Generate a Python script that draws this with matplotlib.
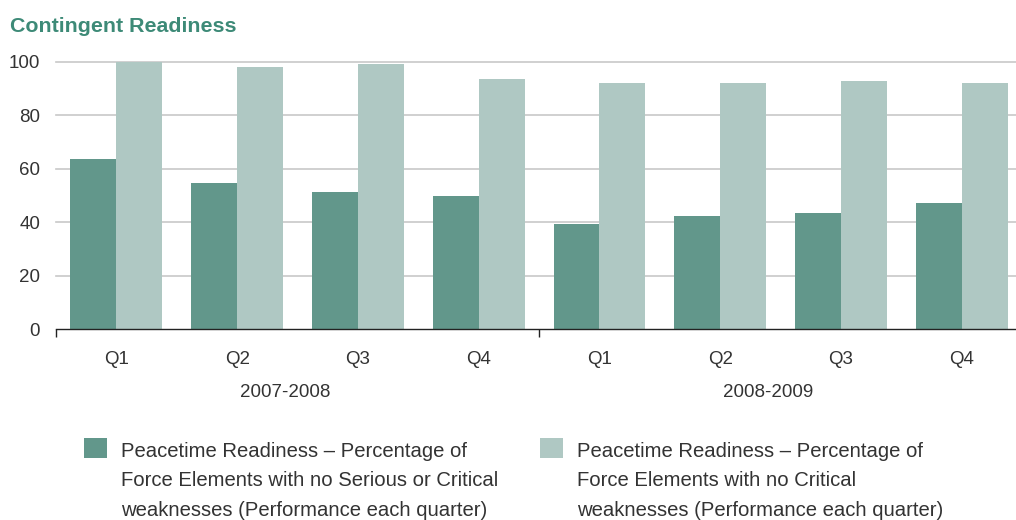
import matplotlib
matplotlib.use("Agg")
import matplotlib.pyplot as plt
from matplotlib.patches import Patch, Rectangle
from matplotlib.legend_handler import HandlerPatch

plt.rcParams['font.family'] = ['Liberation Sans', 'DejaVu Sans']

quarters = ["Q1", "Q2", "Q3", "Q4", "Q1", "Q2", "Q3", "Q4"]
years = ["2007-2008", "2008-2009"]
serious_or_critical = [63.5, 54.5, 51.2, 49.7, 39.4, 42.4, 43.5, 47.3]
critical_only = [100.0, 98.2, 99.3, 93.7, 92.2, 92.2, 92.9, 92.2]
legend_labels = [
    "Peacetime Readiness \u2013 Percentage of\nForce Elements with no Serious or Critical\nweaknesses (Performance each quarter)",
    "Peacetime Readiness \u2013 Percentage of\nForce Elements with no Critical\nweaknesses (Performance each quarter)",
]

dark = "#62978b"
light = "#afc8c3"
text_col = "#333333"


def square_up(legend, orig_handle, xdescent, ydescent, width, height, fontsize):
    # lift the swatch so it sits beside the first text line
    return Rectangle((-xdescent, -ydescent + 3.0), width, height)


fig = plt.figure(figsize=(10.16, 5.2), dpi=100)
ax = fig.add_axes([56 / 1016, 1 - 329 / 520, 1 - 56 / 1016, (329 - 62) / 520])

x = list(range(len(quarters)))
w = 0.38
ax.bar([i - w / 2 for i in x], serious_or_critical, width=w, color=dark, zorder=2)
ax.bar([i + w / 2 for i in x], critical_only, width=w, color=light, zorder=2)

ax.set_ylim(0, 100)
ax.set_xlim(-0.49, 7.45)
ax.set_yticks([0, 20, 40, 60, 80, 100])
for v in [20, 40, 60, 80, 100]:
    ax.axhline(v, color="#c8c8c8", lw=1.2, zorder=1, clip_on=False)

for s in ["top", "right", "left"]:
    ax.spines[s].set_visible(False)
ax.spines["bottom"].set_color("#222222")
ax.spines["bottom"].set_linewidth(1.0)

ax.set_xticks(x)
ax.set_xticklabels(quarters)
ax.set_xticks([-0.5, 3.5], minor=True)
ax.tick_params(axis="x", which="major", length=0, pad=15.5, labelsize=13.5, labelcolor=text_col)
ax.tick_params(axis="x", which="minor", length=6, width=1, color="#222222", direction="out")
ax.tick_params(axis="y", length=0, pad=11.5, labelsize=13.5, labelcolor=text_col)

for i, yr in enumerate(years):
    ax.text(1.4 + 4 * i, -23.8, yr, ha="center", va="center", fontsize=13.5,
            color=text_col, transform=ax.transData)

fig.text(10 / 1016, 1 - 26 / 520, "Contingent Readiness", fontsize=15.4,
         fontweight="bold", color="#3d8a77", ha="left", va="center")

for lbl, col, x0 in zip(legend_labels, [dark, light], [84, 540]):
    leg = fig.legend([Patch(facecolor=col)], [lbl], loc="upper left",
                     bbox_to_anchor=(x0 / 1016, 1 - 442 / 520),
                     frameon=False, fontsize=14.6, borderpad=0, borderaxespad=0,
                     handlelength=1.13, handleheight=1.13, handletextpad=0.69,
                     handler_map={Patch: HandlerPatch(patch_func=square_up)})
    for t in leg.get_texts():
        t.set_color(text_col)
        t.set_linespacing(1.69)
    for col_box in leg._legend_handle_box.get_children():
        for item in col_box.get_children():
            item.align = "top"

fig.savefig("out.png", dpi=100)
